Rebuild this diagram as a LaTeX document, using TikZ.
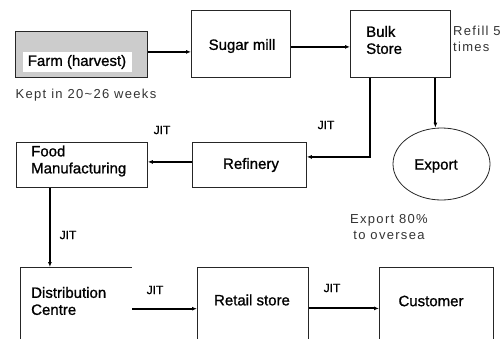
\documentclass[tikz,border=0pt]{standalone}
\usepackage{fontspec}
\setmainfont{Liberation Sans}
\newfontfamily\boxfont[FakeBold=1]{Liberation Sans}
\newfontfamily\notefont[LetterSpace=10]{Liberation Sans}
\usetikzlibrary{arrows.meta,shapes.geometric}
\begin{document}
\begin{tikzpicture}[x=1pt,y=-1pt,
  box/.style={draw=black!85, line width=0.8pt, inner sep=0pt, anchor=north west},
  conn/.style={draw=black, line width=2pt, -{Latex[length=5pt,width=4pt]}},
  txt/.style={font=\boxfont\fontsize{15}{17}\selectfont, inner sep=0pt},
  ltxt/.style={font=\boxfont\fontsize{15}{17}\selectfont, inner sep=0pt, anchor=west, align=left},
  note/.style={font=\notefont\fontsize{13}{15.5}\selectfont, text=black!80, inner sep=0pt},
  jit/.style={font=\boxfont\fontsize{12}{14}\selectfont, inner sep=0pt}]
\useasboundingbox (0,0) rectangle (501,338);
\clip (0,0) rectangle (501,338);
% boxes
\node[box, fill=gray!40, minimum width=132pt, minimum height=46pt] (farm) at (15,31) {};
\node[fill=white, inner sep=0pt, anchor=north west, minimum width=109pt, minimum height=20pt] (farmbg) at (23,52) {};
\node[txt] (farmt) at (77,62) {Farm (harvest)};
\node[note] (kept) at (86,95) {Kept in 20\textasciitilde26 weeks};
\node[box, minimum width=99pt, minimum height=67pt] (mill) at (191,10) {};
\node[txt] (millt) at (242,46) {Sugar mill};
\node[box, minimum width=100pt, minimum height=67pt] (bulk) at (350,10) {};
\node[ltxt] (bulkt) at (366,40) {Bulk\\Store};
\node[note, anchor=west, align=left] (refill) at (453,39) {Refill 5\\times};
\node[draw=black!85, line width=0.8pt, ellipse, minimum width=97pt, minimum height=72pt, inner sep=0pt] (export) at (441.5,164) {};
\node[txt] (exportt) at (436,166) {Export};
\node[note, align=center] (exnote) at (389,227) {Export 80\%\\to oversea};
\node[box, minimum width=114pt, minimum height=45pt] (ref) at (192,142) {};
\node[txt] (reft) at (251,165) {Refinery};
\node[box, minimum width=131pt, minimum height=45pt] (food) at (16,142) {};
\node[ltxt] (foodt) at (31,161) {Food\\Manufacturing};
\node[inner sep=0pt, anchor=north west, minimum width=112pt, minimum height=80pt] (dist) at (20,267) {};
\draw[draw=black!85, line width=0.8pt] (dist.south west) -- (dist.north west) -- (dist.north east);
\node[ltxt] (distt) at (31,301) {Distribution\\Centre};
\node[box, minimum width=111pt, minimum height=80pt] (retail) at (197,267) {};
\node[txt] (retailt) at (252,300) {Retail store};
\node[box, minimum width=114pt, minimum height=80pt] (cust) at (379,267) {};
\node[txt] (custt) at (431,301) {Customer};
% JIT labels
\node[jit] (j1) at (326,125) {JIT};
\node[jit] (j2) at (162,130) {JIT};
\node[jit] (j3) at (68,235) {JIT};
\node[jit] (j4) at (155,290) {JIT};
\node[jit] (j5) at (332,288) {JIT};
% connectors
\draw[conn] ([yshift=2.5pt]farm.east) -- ([yshift=2.5pt]farm.east -| mill.west);
\draw[conn] ([yshift=-3pt]mill.east) -- ([yshift=-3pt]mill.east -| bulk.west);
\draw[conn] ([xshift=-30pt]bulk.south) |- ([yshift=8pt]ref.east);
\draw[conn] ([xshift=35pt]bulk.south) -- ([xshift=35pt]bulk.south |- export.north);
\draw[conn] ([yshift=3pt]ref.west) -- ([yshift=3pt]ref.west -| food.east);
\draw[conn] ([xshift=-32pt]food.south) -- ([xshift=-32pt]food.south |- dist.north);
\draw[conn] ([yshift=-1.5pt]dist.east) -- ([yshift=-1.5pt]dist.east -| retail.west);
\draw[conn] ([yshift=-1pt]retail.east) -- ([yshift=-1pt]retail.east -| cust.west);
\end{tikzpicture}
\end{document}
